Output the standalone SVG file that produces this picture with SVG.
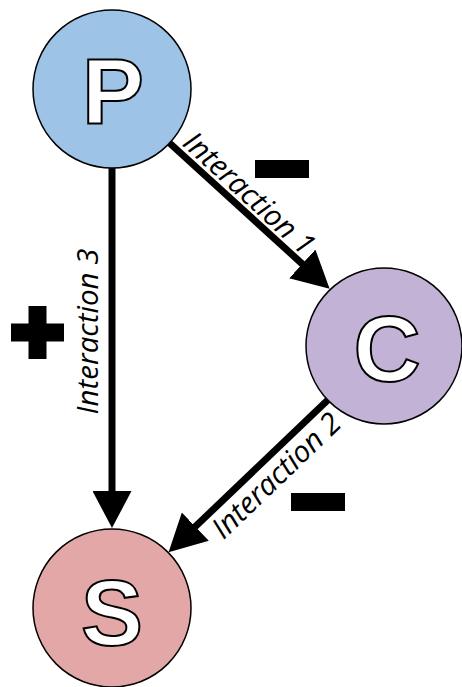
<svg xmlns="http://www.w3.org/2000/svg" width="462" height="687" viewBox="0 0 462 687">
<style>
.node{stroke:#000;stroke-width:1.5}
.letter{font-family:"Liberation Sans",Arial,sans-serif;font-weight:bold;font-size:93px;fill:#fff;stroke:#000;stroke-width:2;text-anchor:middle}
.conn{stroke:#000;stroke-width:7;fill:none}
.lbl{font-family:"Open Sans","Noto Sans",sans-serif;font-style:italic;font-size:29.5px;fill:#000;text-anchor:middle}
.sign{fill:#000}
</style>
<defs>
<marker id="arr" viewBox="0 0 37 39" refX="1" refY="19.5" markerWidth="37" markerHeight="39" markerUnits="userSpaceOnUse" orient="auto">
<path d="M0,0 L37,19.5 L0,39 Z" fill="#000"/>
</marker>
</defs>
<g id="connectors">
<line class="conn" x1="112" y1="168" x2="112" y2="492" marker-end="url(#arr)"/>
<line class="conn" x1="169.5" y1="143" x2="303" y2="264.6" marker-end="url(#arr)"/>
<line class="conn" x1="327.8" y1="400" x2="194.6" y2="527.3" marker-end="url(#arr)"/>
<g transform="translate(237,206.7) rotate(42.5)"><text class="lbl" x="0" y="-8">Interaction 1</text></g>
<g transform="translate(263.2,462) rotate(-43.9)"><text class="lbl" x="0" y="29">Interaction 2</text></g>
<g transform="translate(112,331.5) rotate(-90)"><text class="lbl" x="0" y="-14">Interaction 3</text></g>
<rect class="sign" x="255" y="160" width="54" height="18"/>
<rect class="sign" x="291" y="493" width="54" height="18"/>
<rect class="sign" x="11" y="323.5" width="53" height="18"/>
<rect class="sign" x="28.5" y="306" width="18" height="53"/>
</g>
<g id="P">
<circle class="node" cx="112" cy="89" r="79" fill="#9DC3E6"/>
<text class="letter" x="113" y="124">P</text>
</g>
<g id="C">
<circle class="node" cx="384" cy="346" r="78" fill="#C2B3D6"/>
<text class="letter" x="387" y="381">C</text>
</g>
<g id="S">
<circle class="node" cx="112" cy="608" r="79" fill="#E3A7A7"/>
<text class="letter" x="112" y="645">S</text>
</g>
</svg>
